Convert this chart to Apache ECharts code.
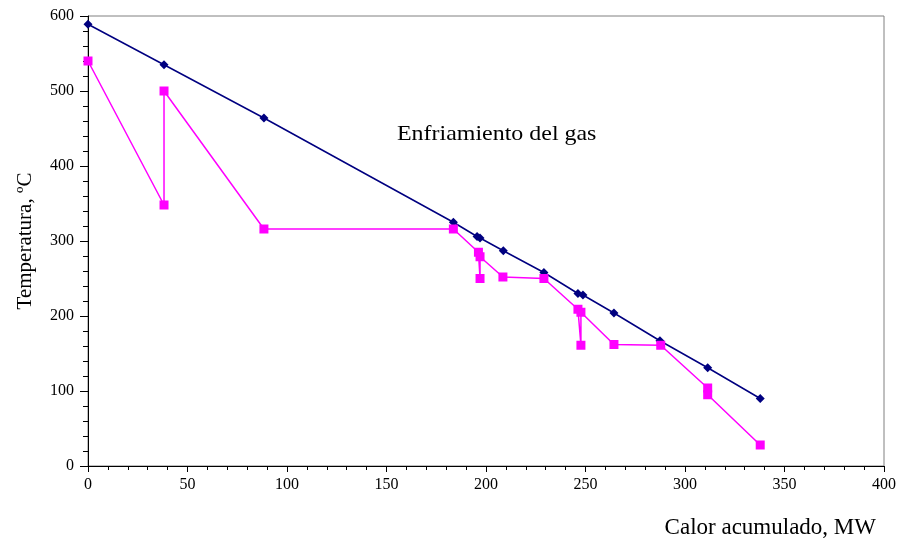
<!DOCTYPE html>
<html>
<head>
<meta charset="utf-8">
<script src="https://cdn.jsdelivr.net/npm/echarts@6/dist/echarts.min.js"></script>
<style>html,body{margin:0;padding:0;background:#fff}#c{width:899px;height:540px}</style>
</head>
<body>
<div id="c"></div>
<script>
// Gas cooling curve (navy)
const gasX = [0, 38.2, 88.4, 183.6, 195.5, 197, 208.7, 229.1, 246.2, 248.7, 264.3, 287.4, 311.4, 337.8];
const gasY = [589, 535, 464, 325, 306, 304, 287, 258, 230, 228, 204, 167, 131, 90];
// Water/steam curve (magenta)
const aguaX = [0, 38.2, 38.2, 88.4, 183.6, 196.2, 197, 197, 208.5, 229.1, 246.2, 247.7, 247.7, 264.3, 287.8, 311.4, 311.4, 337.8];
const aguaY = [540, 348, 500, 316, 316, 285, 250, 279, 252, 250, 209, 161, 205, 162, 161, 104, 95, 28];

const xTicks = [0, 50, 100, 150, 200, 250, 300, 350, 400];
const yTicks = [0, 100, 200, 300, 400, 500, 600];
const annotation = 'Enfriamiento del gas';
const xName = 'Calor acumulado, MW';
const yName = 'Temperatura, ºC';

const pair = (xs, ys) => xs.map((x, i) => [x, ys[i]]);
const font = '"Liberation Serif", "Times New Roman", serif';

const chart = echarts.init(document.getElementById('c'));
chart.setOption({
  animation: false,
  backgroundColor: '#fff',
  grid: { left: 88, right: 15, top: 16, bottom: 74, show: true, borderColor: '#808080', borderWidth: 1, backgroundColor: 'transparent' },
  xAxis: {
    type: 'value', min: xTicks[0], max: xTicks[xTicks.length - 1], interval: 50,
    name: xName, nameLocation: 'end', nameGap: -8,
    nameTextStyle: { fontFamily: font, fontSize: 23, color: '#000', align: 'right', verticalAlign: 'top', padding: [50, 0, 0, 0] },
    axisLine: { show: true, onZero: false, lineStyle: { color: '#000', width: 1 } },
    axisTick: { show: true, inside: false, length: 6, lineStyle: { color: '#000' } },
    minorTick: { show: true, splitNumber: 5, length: 4, lineStyle: { color: '#000' } },
    splitLine: { show: false },
    axisLabel: { fontFamily: font, fontSize: 16, color: '#000', margin: 11 }
  },
  yAxis: {
    type: 'value', min: yTicks[0], max: yTicks[yTicks.length - 1], interval: 100,
    name: yName, nameLocation: 'middle', nameGap: 52,
    nameTextStyle: { fontFamily: font, fontSize: 21, color: '#000' },
    axisLine: { show: true, onZero: false, lineStyle: { color: '#000', width: 1 } },
    axisTick: { show: true, inside: false, length: 8, lineStyle: { color: '#000' } },
    minorTick: { show: true, splitNumber: 5, length: 5, lineStyle: { color: '#000' } },
    splitLine: { show: false },
    axisLabel: { fontFamily: font, fontSize: 16, color: '#000', margin: 14 }
  },
  graphic: [{
    type: 'text', x: 397, y: 124, scaleX: 1.14,
    style: { text: annotation, font: '21px ' + font, fill: '#000' }
  }],
  series: [
    {
      name: 'Gas', type: 'line', data: pair(gasX, gasY),
      symbol: 'diamond', symbolSize: 9,
      lineStyle: { color: '#000080', width: 1.5 },
      itemStyle: { color: '#000080' }, z: 3
    },
    {
      name: 'Agua', type: 'line', data: pair(aguaX, aguaY),
      symbol: 'rect', symbolSize: 9,
      lineStyle: { color: '#FF00FF', width: 1.5 },
      itemStyle: { color: '#FF00FF' }, z: 4
    }
  ]
});
</script>
</body>
</html>
